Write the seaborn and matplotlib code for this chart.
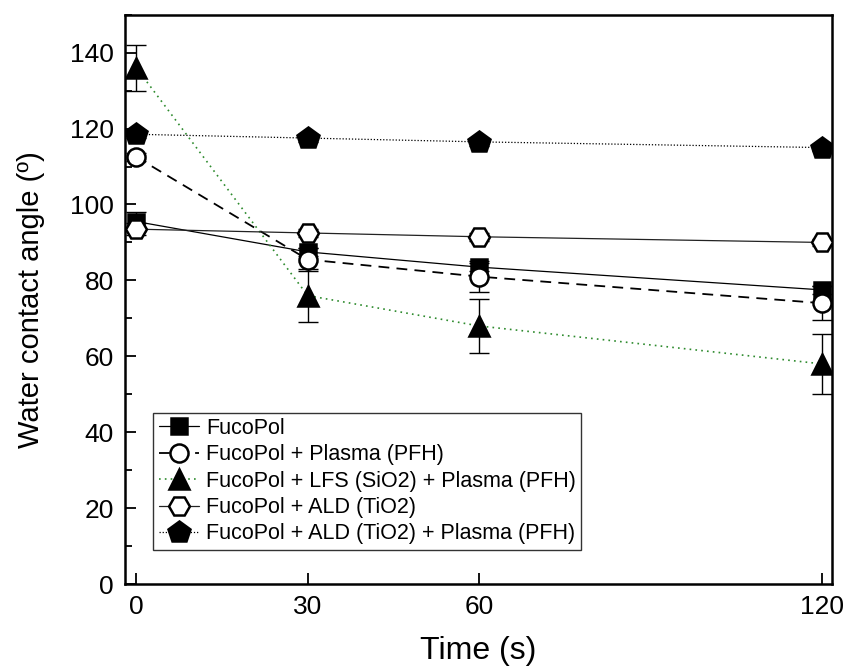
import numpy as np
import pandas as pd
import matplotlib
matplotlib.use("Agg")
import matplotlib.pyplot as plt
from matplotlib.ticker import MultipleLocator
import seaborn as sns

# Contact angle measurements over time
time_s = [0, 30, 60, 120]
series_names = [
    "FucoPol",
    "FucoPol + Plasma (PFH)",
    "FucoPol + LFS (SiO2) + Plasma (PFH)",
    "FucoPol + ALD (TiO2)",
    "FucoPol + ALD (TiO2) + Plasma (PFH)",
]
fucopol = [95.5, 87.5, 83.5, 77.5]
fucopol_err = [2.5, 1.0, 1.0, 1.0]
plasma = [112.5, 85.5, 81.0, 74.0]
plasma_err = [1.0, 3.0, 4.0, 4.5]
lfs_plasma = [136.0, 76.0, 68.0, 58.0]
lfs_plasma_err = [6.0, 7.0, 7.0, 8.0]
ald = [93.5, 92.5, 91.5, 90.0]
ald_err = [1.5, 1.0, 1.0, 1.0]
ald_plasma = [118.5, 117.5, 116.5, 115.0]
ald_plasma_err = [1.0, 1.0, 1.0, 1.0]

values = [fucopol, plasma, lfs_plasma, ald, ald_plasma]
errors = [fucopol_err, plasma_err, lfs_plasma_err, ald_err, ald_plasma_err]

styles = [
    dict(marker="s", mfc="black", ls="-", color="black", lw=0.9, ms=12),
    dict(marker="o", mfc="white", ls=(0, (6, 4)), color="black", lw=1.3, ms=13),
    dict(marker="^", mfc="black", ls=(0, (1, 2.5)), color="#2e8b2e", lw=1.2, ms=15),
    dict(marker="H", mfc="white", ls="-", color="#222222", lw=0.9, ms=15),
    dict(marker="p", mfc="black", ls=(0, (1, 1.5)), color="black", lw=0.9, ms=16),
]

rows = []
for name, vals in zip(series_names, values):
    for t, v in zip(time_s, vals):
        rows.append({"Time": t, "Angle": v, "Series": name})
df = pd.DataFrame(rows)

sns.set_style("ticks")
plt.rcParams["font.family"] = ["Liberation Sans", "DejaVu Sans"]
plt.rcParams["text.color"] = "black"
plt.rcParams["axes.labelcolor"] = "black"
plt.rcParams["xtick.color"] = "black"
plt.rcParams["ytick.color"] = "black"

fig = plt.figure(figsize=(8.44, 6.69), dpi=100)
ax = fig.add_axes([0.148, 0.127, 0.838, 0.851])

handles = []
for name, vals, errs, st in zip(series_names, values, errors, styles):
    sub = df[df["Series"] == name]
    ax.errorbar(sub["Time"], sub["Angle"], yerr=errs, fmt="none",
                ecolor="black", elinewidth=1.0, capsize=7, capthick=1.0, zorder=2)
    sns.lineplot(data=sub, x="Time", y="Angle", ax=ax, color=st["color"],
                 linestyle=st["ls"], linewidth=st["lw"], legend=False, zorder=3)
    ax.plot(sub["Time"], sub["Angle"], ls="none", marker=st["marker"],
            ms=st["ms"], mfc=st["mfc"], mec="black", mew=1.8, zorder=4)
    h = plt.Line2D([], [], color=st["color"], linestyle=st["ls"], linewidth=st["lw"],
                   marker=st["marker"], ms=st["ms"], mfc=st["mfc"], mec="black", mew=1.8)
    handles.append(h)

ax.set_xlim(-2, 121.8)
ax.set_ylim(0, 150)
ax.set_xticks(time_s)
ax.yaxis.set_major_locator(MultipleLocator(20))
ax.yaxis.set_minor_locator(MultipleLocator(10))
ax.tick_params(axis="both", which="major", direction="in", length=8, width=1.3,
               labelsize=19, top=False, right=False, pad=8, colors="black")
ax.tick_params(axis="y", which="minor", direction="in", length=5, width=1.3)
for sp in ax.spines.values():
    sp.set_linewidth(1.8)
    sp.set_color("black")
    sp.set_visible(True)

ax.set_xlabel("Time (s)", fontsize=23, labelpad=12, color="black")
ax.set_ylabel("Water contact angle (º)", fontsize=21, labelpad=18, color="black")

leg = ax.legend(handles, series_names, loc="lower left", bbox_to_anchor=(0.04, 0.06),
                fontsize=15.5, frameon=True, fancybox=False, edgecolor="black",
                handlelength=1.9, handletextpad=0.3, borderpad=0.25, labelspacing=0.25,
                borderaxespad=0)
leg.get_frame().set_linewidth(1.0)
for t in leg.get_texts():
    t.set_color("black")

fig.savefig("out.png", dpi=100)
